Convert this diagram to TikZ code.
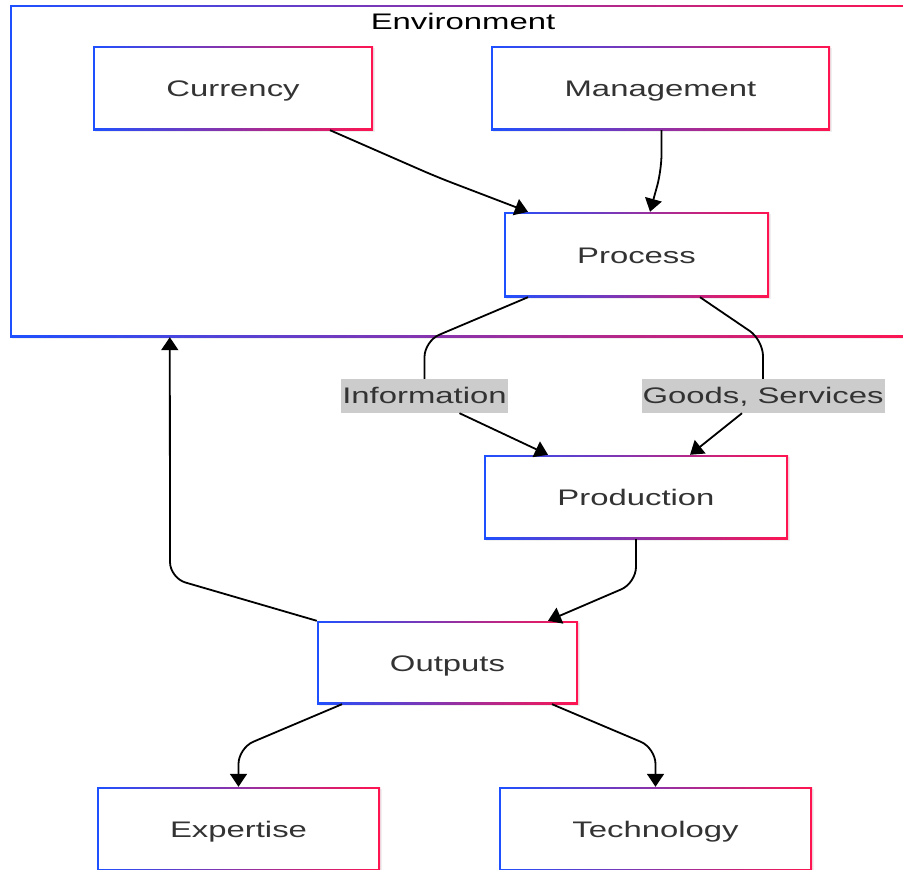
\documentclass[tikz,border=0pt]{standalone}
\usepackage{fontspec}
\setmainfont{Liberation Sans}[FakeStretch=1.46]
\usetikzlibrary{arrows.meta,shadows}
\definecolor{mblue}{RGB}{30,80,255}
\definecolor{mred}{RGB}{255,20,80}
\definecolor{txt}{HTML}{333333}
\definecolor{lblbg}{HTML}{CCCCCC}
\tikzset{
  gbox/.style={minimum width=#1, minimum height=84pt, inner sep=0pt,
    left color=mblue, right color=mred, text=txt,
    text height=17pt, text depth=0pt,
    font=\fontsize{22.5}{27}\selectfont,
    drop shadow={shadow xshift=1.5pt, shadow yshift=-1.5pt, opacity=0.12},
    path picture={\fill[white] ([shift={(2pt,-2pt)}]path picture bounding box.north west)
      rectangle ([shift={(-2pt,2pt)}]path picture bounding box.south east);}},
  lbl/.style={fill=lblbg, text=txt, minimum height=34pt, inner xsep=1pt, inner ysep=0pt,
    text height=14pt, text depth=0pt,
    font=\fontsize{22.5}{27}\selectfont},
  conn/.style={draw=black, line width=1.8pt, rounded corners=16pt},
  arr/.style={conn, -{Triangle[length=13pt,width=17pt]}}
}
\begin{document}
\begin{tikzpicture}[x=1pt,y=-1pt]
\useasboundingbox (0,0) rectangle (903,870);
\clip (0,0) rectangle (903,870);
% environment
\node[gbox=906pt, minimum height=332pt, drop shadow={opacity=0}] (env) at (463,171) {};
\node[text=black, text height=17pt, text depth=0pt, inner sep=0pt, font=\fontsize{22.5}{27}\selectfont] (envt) at (463,21.5) {Environment};
% boxes
\node[gbox=280pt] (cur) at (233,88) {Currency};
\node[gbox=339pt] (man) at (660.5,88) {Management};
\node[gbox=265pt, minimum height=85pt] (proc) at (636.5,254.5) {Process};
\node[gbox=304pt] (prod) at (636,497) {Production};
\node[gbox=261pt, minimum height=83pt] (out) at (447.5,662.5) {Outputs};
\node[gbox=283pt] (exp) at (238.5,829) {Expertise};
\node[gbox=313pt] (tech) at (655.5,829) {Technology};
% labels
\node[lbl] (info) at (424.5,396) {Information};
\node[lbl] (goods) at (763,396) {Goods, Services};
% connectors
\draw[arr] ([xshift=97pt]cur.south) -- (437,177) -- ([xshift=-108.5pt]proc.north);
\draw[arr] ([xshift=1pt]man.south) -- ++(0,40) -- ([xshift=13.5pt]proc.north);
\draw[conn] ([xshift=-108.5pt]proc.south) -- (424.5,341) -- (info.north);
\draw[arr] ([xshift=35pt]info.south) -- ([xshift=-88pt]prod.north);
\draw[conn] ([xshift=63.5pt]proc.south) -- (763,340) -- (goods.north);
\draw[arr] ([xshift=-21pt]goods.south) -- ([xshift=54pt]prod.north);
\draw[arr] (prod.south) -- (636,583) -- ([xshift=100.5pt]out.north);
\draw[arr] (out.north west) -- (170,578) -- ([xshift=160pt]env.south west);
\draw[arr] ([xshift=-105.5pt]out.south) -- (238.5,748) -- (exp.north);
\draw[arr] ([xshift=104.5pt]out.south) -- (655.5,748) -- (tech.north);
\end{tikzpicture}
\end{document}
